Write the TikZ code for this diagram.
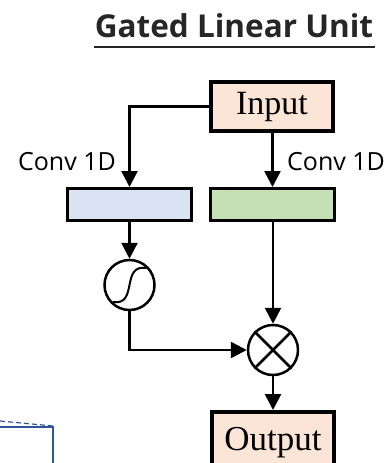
\documentclass[tikz,border=0pt]{standalone}
\usepackage{fontspec}
\setmainfont{Liberation Serif}
\setsansfont{Open Sans}
\usetikzlibrary{arrows.meta}
\definecolor{peach}{HTML}{FBE5D6}
\definecolor{convblue}{HTML}{DAE3F3}
\definecolor{convgreen}{HTML}{C5E0B4}
\definecolor{titlegray}{HTML}{262626}
\definecolor{frameblue}{HTML}{2F5597}
\tikzset{
  iobox/.style={draw, line width=4pt, fill=peach, minimum width=122pt, inner ysep=0pt,
    font=\fontsize{34}{36}\selectfont},
  convbox/.style={draw, line width=3pt, minimum width=124pt, minimum height=32pt, inner sep=0pt},
  opcircle/.style={draw, circle, line width=2.5pt, minimum size=50pt, inner sep=0pt},
  flow/.style={line width=2.6pt, -{Triangle[length=16pt,width=16pt]}},
  convlabel/.style={font=\sffamily\fontsize{25}{28}\selectfont},
}
\begin{document}
\begin{tikzpicture}[x=1pt,y=-1pt]
\useasboundingbox (0,0) rectangle (391,463);

% heading
\node[anchor=base, inner sep=0pt, text=titlegray, font=\sffamily\bfseries\fontsize{31.5}{34}\selectfont]
  (title) at (234,37) {Gated Linear Unit};
\draw[titlegray, line width=2pt] ([shift={(-1pt,-10pt)}]title.base west) -- ([shift={(2pt,-10pt)}]title.base east);

% boxes
\node[iobox, anchor=north, text height=32pt, text depth=17pt] (input) at (272,80) {Input};
\node[convbox, fill=convblue] (convA) at (129.5,204.5) {};
\node[convbox, fill=convgreen] (convB) at (272.5,204.5) {};
\node[opcircle] (sig) at (129.5,285) {};
\node[opcircle] (mul) at (273,350) {};
\node[iobox, anchor=north, text height=38pt, text depth=34pt, font=\fontsize{35}{37}\selectfont]
  (output) at (273,410) {Output};

% glyphs inside the circles
\draw[line width=2pt] ([shift={(-17,17)}]sig.center)
  .. controls ([shift={(-4,19)}]sig.center) and ([shift={(-2,10)}]sig.center) .. (sig.center)
  .. controls ([shift={(2,-10)}]sig.center) and ([shift={(4,-19)}]sig.center) .. ([shift={(17,-17)}]sig.center);
\draw[line width=2.5pt] (mul.north west) -- (mul.south east);
\draw[line width=2.5pt] (mul.north east) -- (mul.south west);

% connectors
\draw[flow] (input.west) -| (convA.north);
\draw[flow] (input.south -| convB.north) -- (convB.north);
\draw[flow] (convA.south) -- (sig.north);
\draw[flow] (convB.south -| mul.north) -- (mul.north);
\draw[flow] (sig.south) |- (mul.west);
\draw[flow] (mul.south) -- (output.north);

% labels
\node[convlabel, anchor=base east, inner sep=0pt] (labA) at (116,170) {Conv 1D};
\node[convlabel, anchor=base west, inner sep=0pt] (labB) at (287,170) {Conv 1D};

% corner of a neighbouring frame
\draw[frameblue, line width=1.2pt, dash pattern=on 5pt off 3pt] (0,421) -- (53,426);
\draw[frameblue, line width=1.2pt] (0,427) -- (53,427) -- (53,463);
\end{tikzpicture}
\end{document}
